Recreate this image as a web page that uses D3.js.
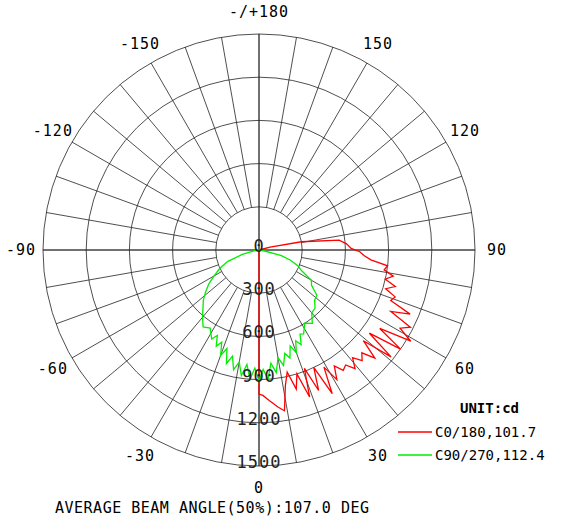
<!DOCTYPE html>
<html><head><meta charset="utf-8">
<script src="https://cdn.jsdelivr.net/npm/d3@7"></script>
<style>body{margin:0;background:#fff}</style></head>
<body><svg id="c" width="572" height="531"></svg>
<script>
// C0/180 plane, angle (deg, 0 = down) and intensity (cd)
var redAngles = [-3,0,1.5,4,7,9,11,13,15,17,19,21,23,25,27,29,31,33,35,37,39,41,43,45,47,49,51,53,55,57,59,61,63,65,67,69,71,73,75,77,79,81,83,85,87,89,91,94,97,101,105,110];
var redValues = [0,1000,1010,1050,1100,1130,960,870,1000,900,1080,880,1060,900,1120,930,1050,960,1020,1000,1060,990,1050,1010,1100,960,1180,960,1200,1000,1230,1120,1180,1010,1140,980,1000,920,980,900,950,880,900,780,730,700,640,610,560,300,80,0];
// C90/270 plane
var greenAngles = [-80,-75,-70,-65,-60,-56,-52,-48,-44,-40,-36,-32,-28,-26,-24,-22,-20,-18,-16,-14,-12,-10,-8,-6,-4,-2,0,2,4,6,8,10,12,14,16,18,20,22,24,26,28,32,36,40,44,48,52,56,60,64,68,72,76,80];
var greenValues = [30,120,230,300,360,420,470,520,560,610,660,640,700,660,730,690,780,720,820,760,850,790,880,800,900,820,910,830,900,790,860,760,820,740,780,700,760,680,720,650,660,600,630,570,560,520,510,440,420,330,290,230,160,40];
var angleLabels = ['0','30','60','90','120','150','-/+180','-150','-120','-90','-60','-30'];
var ringValues = [0,300,600,900,1200,1500];
var legendItems = [{name:'C0/180,101.7',color:'#ff0000'},{name:'C90/270,112.4',color:'#00ee00'}];

var svg = d3.select('#c');
var cx = 259, cy = 250, R = 216;
var font = "'DejaVu Sans Mono', monospace";
var r = d3.scaleLinear().domain([0,1500]).range([0,R]);
function pt(a,v){ var t = a*Math.PI/180; return [cx + r(v)*Math.sin(t), cy + r(v)*Math.cos(t)]; }

var g = svg.append('g');
// rings
g.selectAll('circle.ring').data(ringValues.slice(1)).enter().append('circle')
    .attr('cx',cx).attr('cy',cy).attr('r',function(d){return r(d)})
    .attr('fill','none').attr('stroke','#222').attr('stroke-width',0.8);
// spokes every 10 deg, axes run through the centre
g.selectAll('line.spoke').data(d3.range(0,360,10)).enter().append('line')
    .attr('x1',function(d){return pt(d,d%90==0?1500:300)[0]})
    .attr('y1',function(d){return pt(d,d%90==0?1500:300)[1]})
    .attr('x2',function(d){return d%90==0?pt(d+180,1500)[0]:pt(d,1500)[0]})
    .attr('y2',function(d){return d%90==0?pt(d+180,1500)[1]:pt(d,1500)[1]})
    .attr('stroke','#222').attr('stroke-width',0.8);

// angle labels
g.selectAll('text.ang').data(angleLabels).enter().append('text')
    .attr('x',function(d,i){return cx + 238*Math.sin(i*30*Math.PI/180)})
    .attr('y',function(d,i){return cy + 238*Math.cos(i*30*Math.PI/180)})
    .attr('dy','0.35em').attr('text-anchor','middle').attr('letter-spacing',1)
    .attr('font-family',font).attr('font-size',15).text(function(d){return d});

var line = d3.line().x(function(d){return d[0]}).y(function(d){return d[1]});
svg.append('path').datum(redAngles.map(function(a,i){return pt(a,redValues[i])}))
    .attr('d',line).attr('fill','none').attr('stroke','#ff0000').attr('stroke-width',1.3);
svg.append('path').datum([[cx,cy]].concat(greenAngles.map(function(a,i){return pt(a,greenValues[i])})).concat([[cx,cy]]))
    .attr('d',line).attr('fill','none').attr('stroke','#00ee00').attr('stroke-width',1.3);

// ring value labels
svg.selectAll('text.rv').data(ringValues).enter().append('text')
    .attr('x',cx).attr('y',function(d){return cy + r(d) - 4})
    .attr('dy','0.35em').attr('text-anchor','middle').attr('letter-spacing',1)
    .attr('font-family',font).attr('font-size',17).attr('fill','#222').text(function(d){return d});

// legend
svg.append('text').attr('x',460).attr('y',413).attr('font-family',font).attr('font-size',14)
    .attr('font-weight','bold').text('UNIT:cd');
var lg = svg.selectAll('g.lg').data(legendItems).enter().append('g')
    .attr('transform',function(d,i){return 'translate(398,'+(432+i*23)+')'});
lg.append('line').attr('x1',0).attr('x2',34).attr('stroke',function(d){return d.color}).attr('stroke-width',1.5);
lg.append('text').attr('x',37).attr('dy','0.35em').attr('font-family',font).attr('font-size',14).text(function(d){return d.name});

svg.append('text').attr('x',55).attr('y',513).attr('font-family',font).attr('font-size',15).attr('letter-spacing',0.5)
    .text('AVERAGE BEAM ANGLE(50%):107.0 DEG');
</script></body></html>
